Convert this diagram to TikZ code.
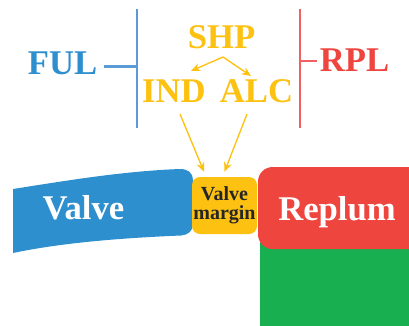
\documentclass[tikz,border=0pt]{standalone}
\usepackage{fontspec}
\setmainfont{Liberation Serif}
\usetikzlibrary{
  arrows.meta,
  calc,
  positioning
}
\definecolor{vmBlue}{HTML}{2E8FCE}
\definecolor{vmBlueLine}{HTML}{5B9BD5}
\definecolor{vmRed}{HTML}{EE453E}
\definecolor{vmRedLine}{HTML}{F26161}
\definecolor{vmYellow}{HTML}{FDC111}
\definecolor{vmGreen}{HTML}{17AF4F}
\tikzset{
  bigword/.style={font=\fontsize{26}{26}\selectfont\bfseries, inner sep=0pt, anchor=base},
  zonebar/.style={line width=2pt},
  tieline/.style={line width=1.6pt},
  pointer/.style={-{Stealth[length=7pt, width=6pt]}, line width=1pt, vmYellow},
  marginbox/.style={
    fill=vmYellow, rounded corners=6pt, minimum width=48.75pt, minimum height=42.75pt,
    inner sep=0pt, align=center, text=black!85,
    font=\fontsize{15}{14}\selectfont\bfseries
  }
}
\begin{document}
\begin{tikzpicture}[x=0.75pt, y=-0.75pt]
  \useasboundingbox (0,0) rectangle (409,325);

  % tissue blocks
  \fill[vmGreen] (260,240) rectangle (415,330);
  \fill[vmRed, rounded corners=11pt] (258,167) rectangle (445,249);
  \fill[vmBlue] (13,189) .. controls (70,180) and (125,171) .. (180,169)
    .. controls (188,169) and (193,173) .. (193,180) -- (193,224)
    .. controls (193,231) and (188,235) .. (181,235.5)
    .. controls (120,238) and (60,243) .. (13,253) -- cycle;

  \node[bigword, white] (valve) at (83.5,219) {Valve};
  \node[bigword, white] (replum) at (337,220) {Replum};
  \node[marginbox] (margin) at (224.5,205.5) {Valve\\margin};

  % zone labels
  \node[bigword, vmBlue] (ful) at (62.5,74) {FUL};
  \node[bigword, vmRed] (rpl) at (354.5,71) {RPL};
  \node[bigword, vmYellow] (shp) at (221.5,48) {SHP};
  \node[bigword, vmYellow] (ind) at (174,102) {IND};
  \node[bigword, vmYellow] (alc) at (256.5,102) {ALC};

  \draw[zonebar, vmBlueLine] (137,9) -- (137,128);
  \draw[zonebar, vmRedLine] (300,9) -- (300,128);
  \coordinate (fulbar) at (137,66.5);
  \coordinate (rplbar) at (300,61);
  \draw[tieline, vmBlueLine] ([xshift=5pt]ful.east |- fulbar) -- (fulbar);
  \draw[tieline, vmRedLine] (rplbar) -- ([xshift=-2pt]rpl.west |- rplbar);

  % arrows
  \coordinate (split) at ($(shp.base)+(1.5,9)$);
  \draw[pointer] (split) -- ($(ind.base)+(17,-31)$);
  \draw[pointer] (split) -- ($(alc.base)+(-5.5,-26)$);
  \draw[pointer] ($(ind.base)+(6,12)$) -- ($(margin.north)+(-20.5,-5)$);
  \draw[pointer] ($(alc.base)+(-9.5,12)$) -- ($(margin.north)+(0,-5)$);
\end{tikzpicture}
\end{document}
